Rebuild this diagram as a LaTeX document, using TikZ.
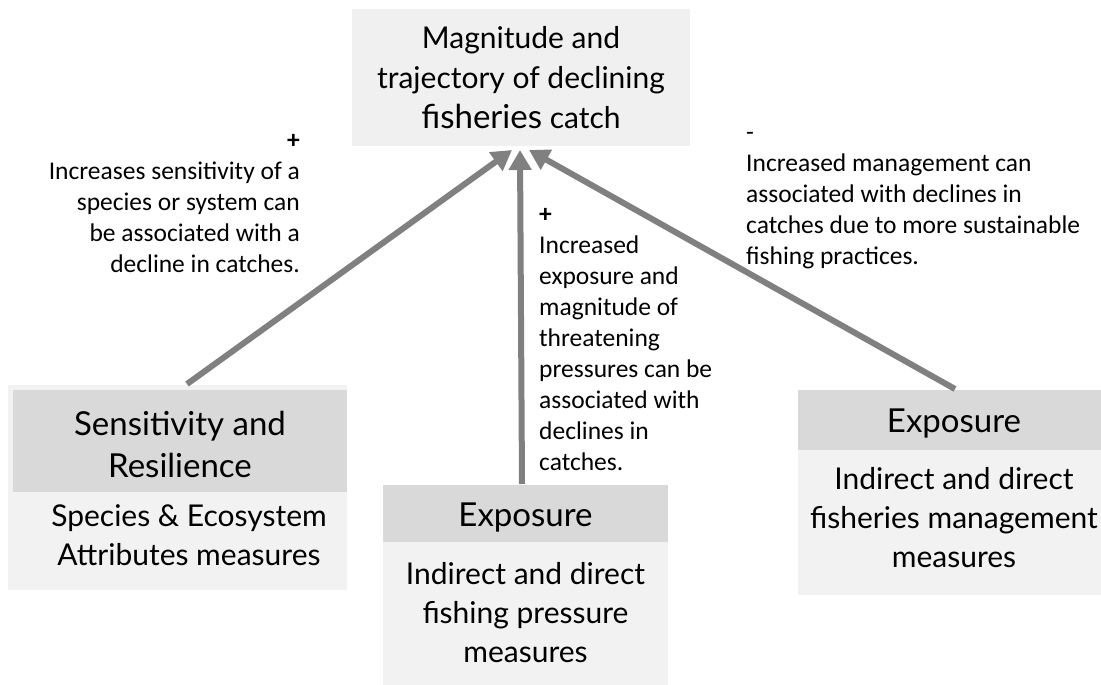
\documentclass[tikz,border=0pt]{standalone}
\usepackage{fontspec}
\setmainfont{Lato}
\newfontfamily\notefont{Carlito}
\usetikzlibrary{arrows.meta}
\definecolor{topfill}{HTML}{F0F0F0}
\definecolor{headfill}{HTML}{D9D9D9}
\definecolor{bodyfill}{HTML}{F2F2F2}
\definecolor{arrowgray}{HTML}{808080}
\tikzset{
  boxbg/.style={fill=bodyfill, draw=none, inner sep=0pt, anchor=center},
  headbox/.style={fill=headfill, draw=none, inner sep=0pt, anchor=center},
  headtext/.style={inner sep=0pt, align=center, font=\fontsize{33}{42}\selectfont},
  bodytext/.style={inner sep=0pt, align=center, font=\fontsize{30}{39}\selectfont},
  note/.style={inner sep=0pt, font=\notefont\fontsize{25.5}{31}\selectfont},
  link/.style={draw=arrowgray, line width=6pt, -{Triangle[length=20pt,width=22pt]}}
}
\begin{document}
\begin{tikzpicture}[x=1pt,y=-1pt]
\useasboundingbox (0,0) rectangle (1101,685);
% top box
\node[fill=topfill, inner sep=0pt, minimum width=338pt, minimum height=137pt, align=center,
  font=\fontsize{30}{40}\selectfont] (top) at (521,77.5)
  {Magnitude and\\trajectory of declining\\{\fontsize{33}{40}\selectfont fisheries} catch};
% left box
\node[boxbg, minimum width=339pt, minimum height=205pt] (lbg) at (177.5,487.5) {};
\node[headbox, minimum width=334pt, minimum height=102pt] (lhead) at (180,441) {};
\node[headtext] (lheadtext) at (180,444) {Sensitivity and\\Resilience};
\node[bodytext] (lbody) at (189,535) {Species \& Ecosystem\\Attributes measures};
% middle box
\node[boxbg, minimum width=285pt, minimum height=200pt] (mbg) at (525.5,585) {};
\node[headbox, minimum width=285pt, minimum height=57pt] (mhead) at (525.5,513.5) {};
\node[headtext] (mheadtext) at (525.5,518) {Exposure};
\node[bodytext] (mbody) at (525.5,613) {Indirect and direct\\fishing pressure\\measures};
% right box
\node[boxbg, minimum width=303pt, minimum height=205pt] (rbg) at (949.5,492.5) {};
\node[headbox, minimum width=303pt, minimum height=60pt] (rhead) at (949.5,420) {};
\node[headtext] (rheadtext) at (954,424) {Exposure};
\node[bodytext] (rbody) at (954,518) {Indirect and direct\\fisheries management\\measures};
% arrow end points
\coordinate (tipL) at (512,150);
\coordinate (tipM) at (520,150);
\coordinate (tipR) at (529,150);
\coordinate (startL) at (187,384);
\coordinate (startM) at (522,484);
\coordinate (startR) at (955,389);
\draw[link] (startL) -- (tipL);
\draw[link] (startM) -- (tipM);
\draw[link] (startR) -- (tipR);
% notes
\node[note, align=right, anchor=north east] (noteL) at (300,134)
  {\textbf{+}\\Increases sensitivity of a\\species or system can\\be associated with a\\decline in catches.};
\node[note, align=left, anchor=north west] (noteM) at (539,208)
  {\textbf{+}\\Increased\\exposure and\\magnitude of\\threatening\\pressures can be\\associated with\\declines in\\catches.};
\node[note, align=left, anchor=north west] (noteR) at (746,132)
  {-\\Increased management can\\associated with declines in\\catches due to more sustainable\\fishing practices.};
\end{tikzpicture}
\end{document}
